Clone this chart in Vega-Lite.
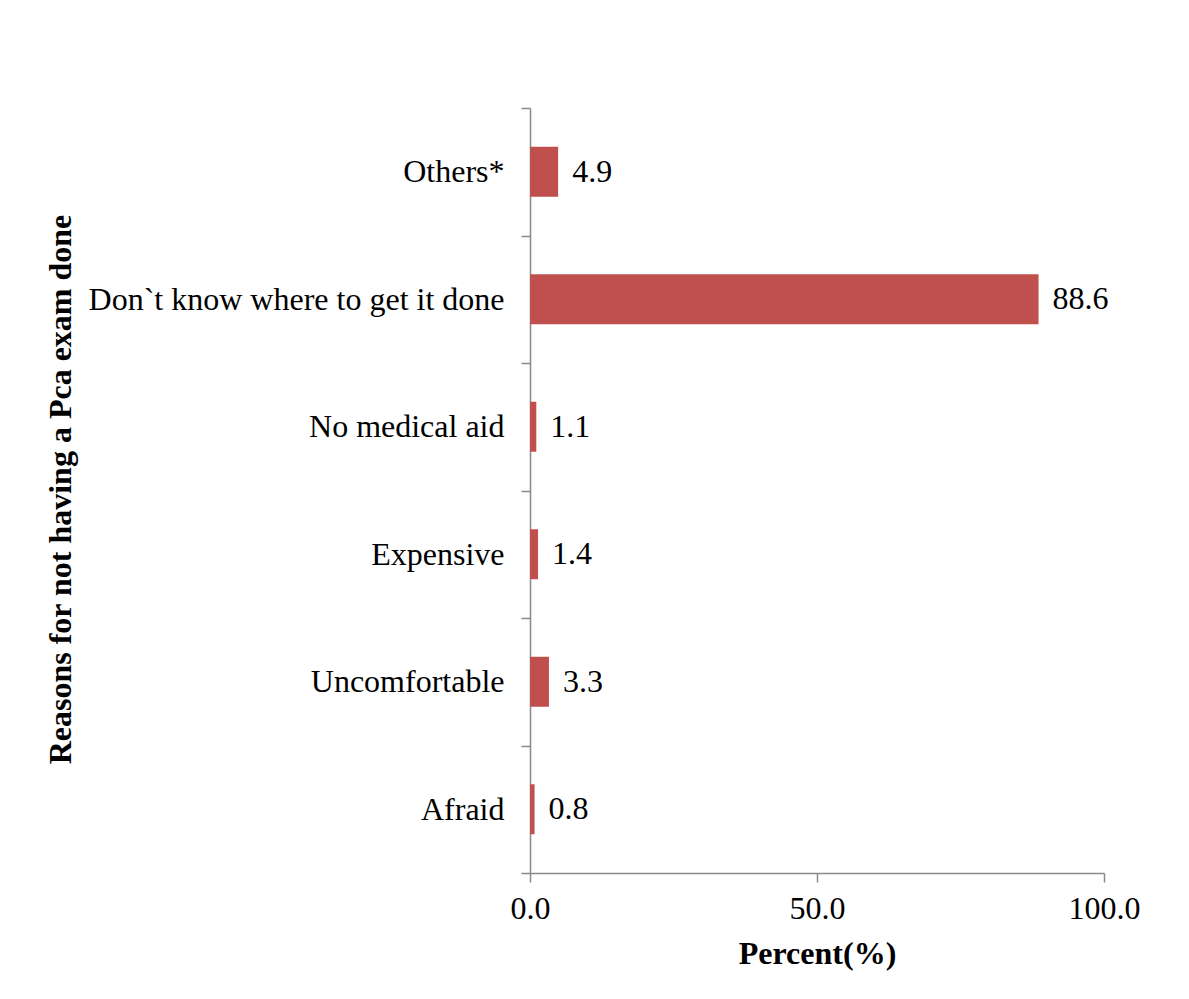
{
  "$schema": "https://vega.github.io/schema/vega-lite/v6.json",
  "autosize": {"type": "none"},
  "padding": {"left": 530, "top": 108, "right": 85, "bottom": 126},
  "width": 574,
  "height": 765,
  "background": "white",
  "config": {"view": {"stroke": null}, "font": "Liberation Serif"},
  "data": {"values": [
    {"reason": "Others*", "percent": 4.9},
    {"reason": "Don`t know where to get it done", "percent": 88.6},
    {"reason": "No medical aid", "percent": 1.1},
    {"reason": "Expensive", "percent": 1.4},
    {"reason": "Uncomfortable", "percent": 3.3},
    {"reason": "Afraid", "percent": 0.8}
  ]},
  "encoding": {
    "y": {
      "field": "reason", "type": "nominal", "sort": null,
      "scale": {"paddingInner": 0, "paddingOuter": 0},
      "axis": {
        "title": "Reasons for not having a Pca exam done",
        "titleFont": "Liberation Serif", "titleFontSize": 32, "titleFontWeight": "bold", "titleColor": "black",
        "titleX": -453, "titleY": 381, "titleAngle": -90, "titleBaseline": "bottom", "titleAlign": "center",
        "labelFont": "Liberation Serif", "labelFontSize": 32, "labelColor": "black", "labelPadding": 17, "labelLimit": 0,
        "tickBand": "extent", "tickExtra": true, "tickSize": 9, "tickColor": "#898989", "tickWidth": 1.5,
        "domainColor": "#898989", "domainWidth": 1.5, "grid": false
      }
    },
    "x": {
      "field": "percent", "type": "quantitative",
      "scale": {"domain": [0, 100], "nice": false},
      "axis": {
        "title": "Percent(%)", "values": [0, 50, 100], "format": ".1f",
        "titleFont": "Liberation Serif", "titleFontSize": 32, "titleFontWeight": "bold", "titleColor": "black",
        "titlePadding": 14, "labelFlush": false,
        "labelFont": "Liberation Serif", "labelFontSize": 32, "labelColor": "black", "labelPadding": 11,
        "tickSize": 9, "tickColor": "#898989", "tickWidth": 1.5,
        "domainColor": "#898989", "domainWidth": 1.5, "grid": false
      }
    }
  },
  "layer": [
    {"mark": {"type": "bar", "color": "#C0504D", "height": {"band": 0.392}}},
    {"mark": {"type": "text", "align": "left", "dx": 14, "baseline": "middle", "font": "Liberation Serif", "fontSize": 32, "color": "black"},
     "encoding": {"text": {"field": "percent", "type": "quantitative", "format": ".1f"}}}
  ]
}
